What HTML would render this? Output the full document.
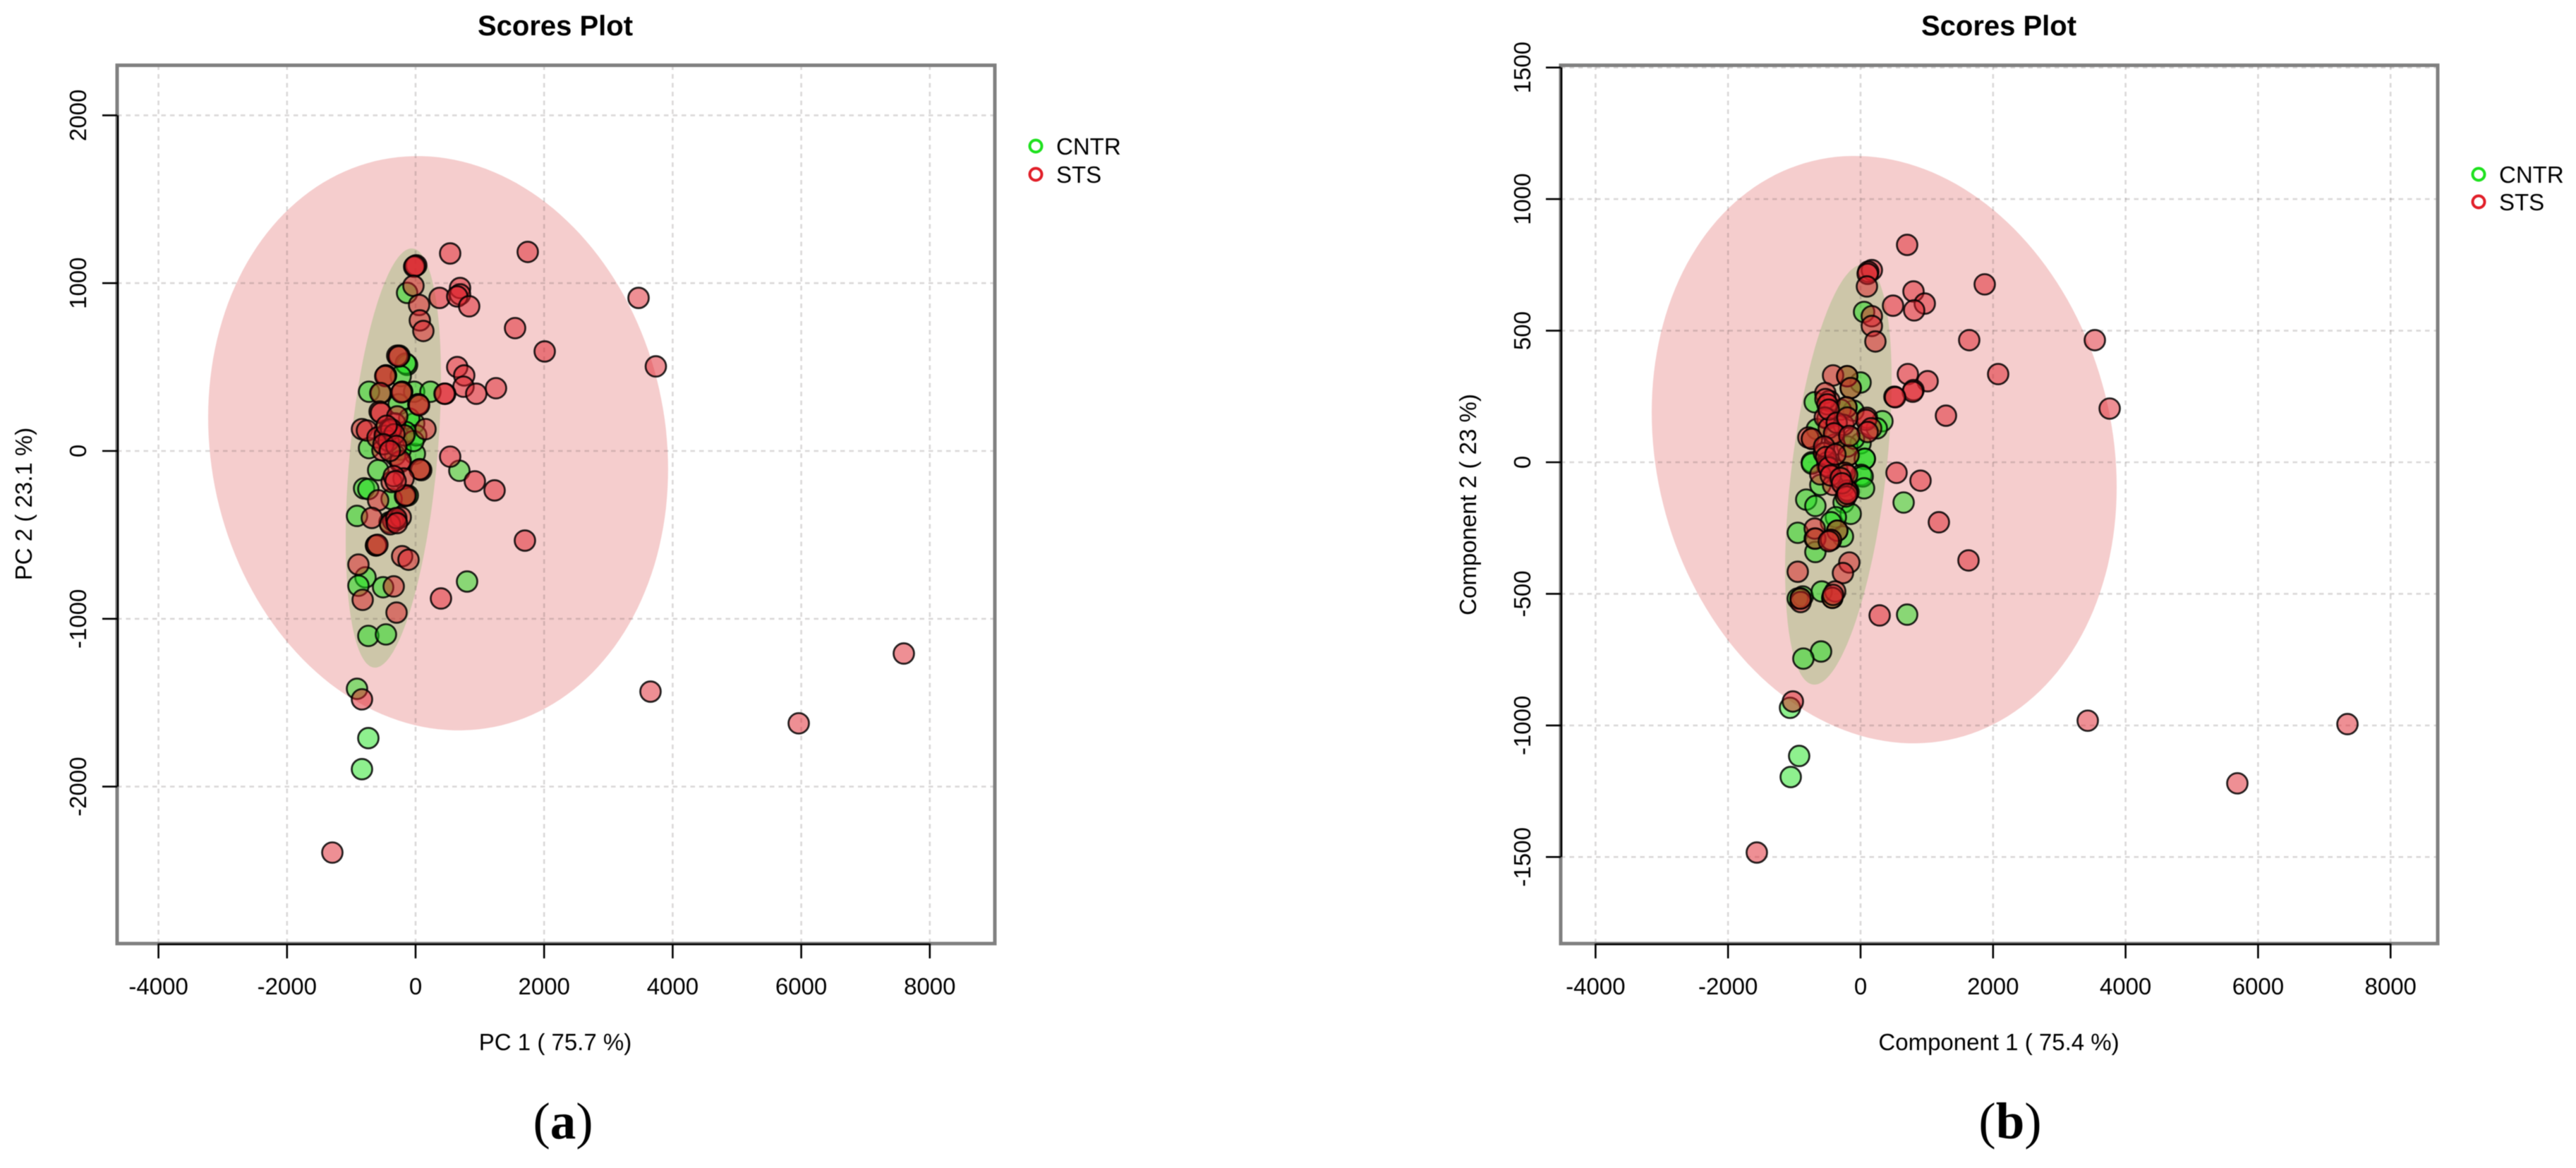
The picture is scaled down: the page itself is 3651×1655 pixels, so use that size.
<!DOCTYPE html>
<html>
<head>
<meta charset="utf-8">
<title>Scores Plots</title>
<style>
  html, body { margin: 0; padding: 0; background: #fff; }
  #figure { display: block; filter: blur(0.55px); }
  text { font-family: "Liberation Sans", sans-serif; fill: #000; }
  .caption { font-family: "Liberation Serif", serif; font-size: 73px; }
  .caption tspan { font-family: "Liberation Serif", serif; font-weight: bold; }
</style>
</head>
<body>
<svg id="figure" xmlns="http://www.w3.org/2000/svg" width="3651" height="1655" viewBox="0 0 3651 1655">
  <rect x="0" y="0" width="3651" height="1655" fill="#fff"></rect>
  <g id="panel-a"></g>
  <g id="panel-b"></g>
  <text class="caption" x="798" y="1613" text-anchor="middle">(<tspan>a</tspan>)</text>
  <text class="caption" x="2849" y="1613" text-anchor="middle">(<tspan>b</tspan>)</text>
</svg>
<script>
// ---- Shared tick labels and categories ----
const xTicks = [-4000, -2000, 0, 2000, 4000, 6000, 8000];
const aYTicks = [-2000, -1000, 0, 1000, 2000];
const bYTicks = [-1500, -1000, -500, 0, 500, 1000, 1500];
const categories = ['CNTR', 'STS'];

// ---- Panel (a) PCA scores ----
const aCntrX = [-132,-132,-154,-231,-724,-22,231,-263,-538,-209,44,-461,-22,-99,-252,-724,-11,11,-231,-582,-801,-735,681,66,-154,-121,-373,-911,-307,-406,-615,-779,-889,-505,-735,-461,801,-911,-735,-834,-373,-154,-318,-483,-33];
const aCntrY = [942,513,521,446,353,353,353,278,345,353,278,450,164,193,568,17,-17,93,8,-114,-223,-227,-118,-109,-265,-265,-286,-387,-412,-425,-563,-753,-803,-812,-1102,-1093,-778,-1417,-1711,-1896,80,113,-25,122,59];
const aStsX = [538,1745,11,-22,-11,-33,55,66,121,373,692,692,648,834,1548,2009,648,757,746,944,1251,461,450,-285,-263,-461,-472,-549,-209,-220,44,55,-560,-538,-318,-406,-285,-834,-757,154,-593,-395,-176,-516,-241,-231,88,66,-187,-373,538,922,1229,-582,-165,-154,-681,-318,-351,-231,-395,-615,-593,-209,-110,-889,-340,-823,-296,1701,395,3655,5961,7596,-1295,-834,3469,3738,-480,-420,-380,-330,-450,-500,-300,-400,-340,-310,-300,-290];
const aStsY = [1177,1186,1106,1098,1102,984,870,778,715,912,971,933,921,862,732,593,500,450,383,341,374,341,341,568,563,450,446,345,353,349,278,273,235,227,164,130,206,130,122,130,80,122,93,4,-67,-59,-114,-109,-164,-185,-34,-181,-235,-294,-269,-265,-399,-412,-416,-395,-437,-563,-559,-627,-648,-677,-807,-887,-963,-534,-879,-1434,-1623,-1207,-2393,-1480,912,504,90,60,130,100,150,40,30,0,-150,-180,-400,-430];
// confidence ellipses as [meanX, sdX, meanY, sdY, correlation]
const aStsEllipse = [351, 3578, 46, 1711, -0.09];
const aCntrEllipse = [-346, 741, -42, 1249, 0.385];

// ---- Panel (b) PLS-DA scores ----
const bCntrX = [53,0,-149,-692,-107,330,0,-660,-735,64,-213,-202,245,-735,-181,-543,-735,64,11,32,-607,53,-820,-682,650,-256,-149,-373,-447,-948,-266,-682,-351,-692,-447,-873,-948,-905,-586,-426,703,-596,-863,-1065,-927,-1054,-400,-300,-200,-350,-100,-250];
const bCntrY = [571,303,282,228,196,156,72,126,0,13,209,327,129,89,27,35,-5,13,-48,-54,-86,-99,-142,-166,-153,-153,-196,-209,-228,-268,-282,-341,-260,-290,-295,-510,-518,-518,-491,-515,-579,-719,-746,-933,-1116,-1196,100,200,60,-30,90,-90];
const bStsX = [703,170,117,107,96,799,490,969,809,1874,170,170,224,1640,2077,714,1012,799,788,511,522,1289,-415,-202,-149,-532,-469,-213,-500,-256,96,85,160,107,-788,-735,-394,-554,-181,-500,-500,-607,-234,-202,-415,-181,-202,543,905,1182,1629,-692,-682,-351,-447,-479,-170,-266,-948,-383,-426,-415,-905,-905,288,3429,5687,7349,-1566,-1022,3536,3760,-530,-500,-540,-480,-480,-360,-400,-550,-520,-480,-450,-300,-280,-220,-200,-380,-200,-170];
const bStsY = [826,730,724,716,668,649,595,603,577,676,555,518,459,464,335,335,308,274,268,249,247,177,330,327,282,263,233,209,166,142,169,161,129,115,94,89,67,35,27,0,-13,-46,-40,-48,-86,-113,-107,-40,-70,-228,-373,-252,-290,-260,-295,-300,-381,-421,-416,-491,-515,-504,-531,-518,-582,-982,-1220,-995,-1483,-909,464,204,240,220,170,130,200,150,110,60,20,-20,-50,-60,-80,-130,-120,30,170,100];
const bStsEllipse = [357, 3509, 48, 1116, -0.127];
const bCntrEllipse = [-335, 804, -47, 798, 0.45];

const NS = 'http://www.w3.org/2000/svg';
const GREEN = 'rgb(30,225,30)';
const RED = 'rgb(222,32,42)';

function mk(parent, tag, attrs, txt) {
  const el = document.createElementNS(NS, tag);
  for (const k in attrs) el.setAttribute(k, attrs[k]);
  if (txt !== undefined) el.textContent = txt;
  parent.appendChild(el);
  return el;
}

function ellipsePath(e, sx, sy) {
  const [mx, ax, my, ay, rho] = e;
  const q = Math.sqrt(1 - rho * rho);
  let d = '';
  for (let i = 0; i <= 180; i++) {
    const t = i / 180 * 2 * Math.PI;
    const vx = mx + ax * Math.cos(t);
    const vy = my + ay * (rho * Math.cos(t) + q * Math.sin(t));
    d += (i ? 'L' : 'M') + sx(vx).toFixed(1) + ' ' + sy(vy).toFixed(1);
  }
  return d + 'Z';
}

function drawPanel(root, p) {
  const sx = v => p.x0 + p.kx * v;
  const sy = v => p.y0 - p.ky * v;

  // confidence ellipses
  const e1 = mk(root, 'path', { d: ellipsePath(p.stsEllipse, sx, sy), fill: '#F5CDCD' });
  
  
  const e2 = mk(root, 'path', { d: ellipsePath(p.cntrEllipse, sx, sy), fill: '#CDC6A9' });
  
  

  // grid
  const gridStyle = { stroke: 'rgba(70,60,60,0.2)', 'stroke-width': 2.6, 'stroke-dasharray': '6.5 6' };
  xTicks.forEach(v => {
    const g = mk(root, 'line', Object.assign({ x1: sx(v), x2: sx(v), y1: p.top, y2: p.bottom }, gridStyle));
    
    
  });
  p.yTicks.forEach(v => {
    const g = mk(root, 'line', Object.assign({ x1: p.left, x2: p.right, y1: sy(v), y2: sy(v) }, gridStyle));
    
    
  });

  // points
  function drawSeries(xs, ys, col, nm) {
    xs.forEach((v, i) => {
      const c = mk(root, 'circle', {
        cx: sx(v), cy: sy(ys[i]), r: 14.5,
        fill: col, 'fill-opacity': 0.5, stroke: '#000', 'stroke-width': 2.7, 'stroke-opacity': 0.85
      });
      
      
    });
  }
  drawSeries(p.cntrX, p.cntrY, GREEN, 'cntr-point');
  drawSeries(p.stsX, p.stsY, RED, 'sts-point');

  // frame
  const fr = mk(root, 'rect', {
    x: p.left, y: p.top, width: p.right - p.left, height: p.bottom - p.top,
    fill: 'none', stroke: '#808080', 'stroke-width': 5
  });
  
  

  // x axis
  const xa = mk(root, 'line', {
    x1: sx(xTicks[0]), x2: sx(xTicks[xTicks.length - 1]), y1: p.bottom + 1, y2: p.bottom + 1,
    stroke: '#000', 'stroke-width': 2.6
  });
  
  
  xTicks.forEach(v => {
    const t = mk(root, 'line', {
      x1: sx(v), x2: sx(v), y1: p.bottom, y2: p.bottom + 21, stroke: '#000', 'stroke-width': 2.6
    });
    
    
    const l = mk(root, 'text', {
      x: sx(v), y: 1409, 'text-anchor': 'middle', 'font-size': 33
    }, String(v));
    
    
  });

  // y axis
  const ya = mk(root, 'line', {
    x1: p.left + 1, x2: p.left + 1,
    y1: sy(p.yTicks[0]), y2: sy(p.yTicks[p.yTicks.length - 1]),
    stroke: '#000', 'stroke-width': 2.6
  });
  
  
  p.yTicks.forEach(v => {
    const t = mk(root, 'line', {
      x1: p.left - 21, x2: p.left, y1: sy(v), y2: sy(v), stroke: '#000', 'stroke-width': 2.6
    });
    
    
    const l = mk(root, 'text', {
      transform: 'translate(' + p.yTickBase + ',' + sy(v) + ') rotate(-90)',
      'text-anchor': 'middle', 'font-size': 33
    }, String(v));
    
    
  });

  // titles
  const ti = mk(root, 'text', {
    x: p.titleX, y: 50, 'text-anchor': 'middle', 'font-size': 40, 'font-weight': 'bold'
  }, 'Scores Plot');
  
  
  const xl = mk(root, 'text', {
    x: p.titleX, y: 1488, 'text-anchor': 'middle', 'font-size': 33
  }, p.xLabel);
  
  
  const yl = mk(root, 'text', {
    transform: 'translate(' + p.yLabelBase + ',' + p.yLabelY + ') rotate(-90)',
    'text-anchor': 'middle', 'font-size': 33
  }, p.yLabel);
  
  

  // legend
  categories.forEach((c, i) => {
    const ly = p.legendY + i * p.legendStep;
    const m = mk(root, 'circle', {
      cx: p.legendX, cy: ly, r: 8.5, fill: 'none',
      stroke: i === 0 ? 'rgb(30,225,30)' : 'rgb(225,30,40)', 'stroke-width': 4
    });
    
    
    const l = mk(root, 'text', { x: p.legendX + 29, y: ly + 12, 'font-size': 33 }, c);
    
    
  });
}

drawPanel(document.getElementById('panel-a'), {
  left: 166, right: 1410, top: 92.5, bottom: 1337,
  x0: 589, kx: 0.0911, y0: 639, ky: 0.2378,
  yTicks: aYTicks, cntrX: aCntrX, cntrY: aCntrY, stsX: aStsX, stsY: aStsY,
  stsEllipse: aStsEllipse, cntrEllipse: aCntrEllipse,
  yTickBase: 122, yLabelBase: 45, yLabelY: 714, titleX: 787,
  xLabel: 'PC 1 ( 75.7 %)', yLabel: 'PC 2 ( 23.1 %)',
  legendX: 1468, legendY: 207, legendStep: 40
});
drawPanel(document.getElementById('panel-b'), {
  left: 2212, right: 3455, top: 92.5, bottom: 1337,
  x0: 2637, kx: 0.0939, y0: 655, ky: 0.3729,
  yTicks: bYTicks, cntrX: bCntrX, cntrY: bCntrY, stsX: bStsX, stsY: bStsY,
  stsEllipse: bStsEllipse, cntrEllipse: bCntrEllipse,
  yTickBase: 2169, yLabelBase: 2092, yLabelY: 715, titleX: 2833,
  xLabel: 'Component 1 ( 75.4 %)', yLabel: 'Component 2 ( 23 %)',
  legendX: 3513, legendY: 247, legendStep: 39
});
</script>
</body>
</html>
